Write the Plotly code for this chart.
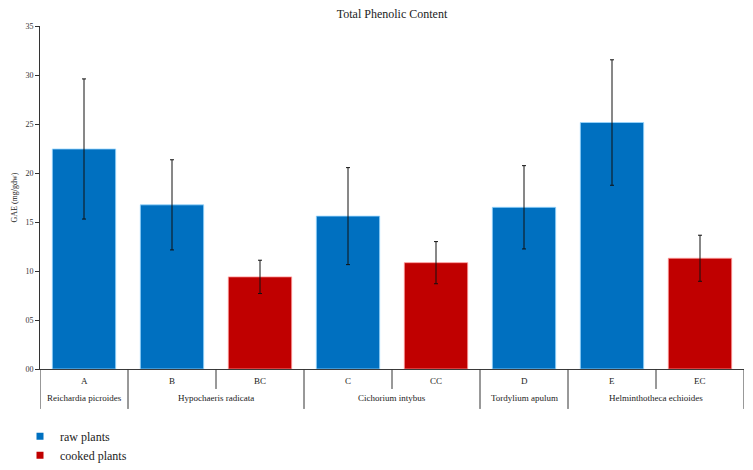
import plotly.graph_objects as go

categories = ["A", "B", "BC", "C", "CC", "D", "E", "EC"]
values = [22.45, 16.75, 9.4, 15.6, 10.85, 16.5, 25.15, 11.3]
errors = [7.15, 4.6, 1.7, 4.95, 2.15, 4.25, 6.4, 2.35]
cooked = [False, False, True, False, True, False, False, True]
groups = ["Reichardia picroides", "Hypochaeris radicata", "Cichorium intybus",
          "Tordylium apulum", "Helminthotheca echioides"]
group_sizes = [1, 2, 2, 1, 2]
ytick_vals = [0, 5, 10, 15, 20, 25, 30, 35]
ytick_text = ["00", "05", "10", "15", "20", "25", "30", "35"]

BLUE = "#0070C0"
RED = "#C00000"
FONT = "Liberation Serif"
PH = 343.5  # plot height in px

fig = go.Figure()
for is_cooked, color, edge in [(False, BLUE, "#9ad8ff"), (True, RED, "#ff9a9a")]:
    idx = [i for i, c in enumerate(cooked) if c == is_cooked]
    fig.add_trace(go.Bar(
        x=[i for i in idx], y=[values[i] for i in idx],
        error_y=dict(type="data", array=[errors[i] for i in idx],
                     color="#111111", thickness=1, width=2),
        marker=dict(color=color, line=dict(color=edge, width=0.8)),
        width=0.72, showlegend=False, hoverinfo="y"))

for name, color in [("raw plants", BLUE), ("cooked plants", RED)]:
    fig.add_trace(go.Scatter(x=[None], y=[None], mode="markers", name=name,
                             marker=dict(symbol="square", size=7, color=color)))

# category letters
for i, c in enumerate(categories):
    fig.add_annotation(x=i, y=-12 / PH, xref="x", yref="paper", text=c,
                       showarrow=False, font=dict(family=FONT, size=9, color="#222222"),
                       yanchor="middle")

# group labels and separators
shapes = []
start = 0
long_y = -40 / PH
short_y = -20 / PH
bounds = [-0.5]
for g, n in zip(groups, group_sizes):
    center = start + (n - 1) / 2
    fig.add_annotation(x=center, y=-29 / PH, xref="x", yref="paper", text=g,
                       showarrow=False, font=dict(family=FONT, size=9, color="#222222"),
                       yanchor="middle")
    for k in range(1, n):
        shapes.append(dict(type="line", xref="x", yref="paper", x0=start + k - 0.5,
                           x1=start + k - 0.5, y0=0, y1=short_y,
                           line=dict(color="#333333", width=1)))
    start += n
    bounds.append(start - 0.5)
for b in bounds:
    shapes.append(dict(type="line", xref="x", yref="paper", x0=b, x1=b, y0=0, y1=long_y,
                       line=dict(color="#333333", width=1)))

# page body has an 8px margin, so the figure is 8px smaller and offset
fig.update_layout(
    width=745, height=462,
    margin=dict(l=32, r=9, t=17.5, b=101, autoexpand=False),
    paper_bgcolor="white", plot_bgcolor="white",
    barmode="overlay",
    shapes=shapes,
    title=dict(text="Total Phenolic Content", x=0.5, xref="paper", y=1 - 5.5 / 462,
               yanchor="middle", font=dict(family=FONT, size=12, color="#222222")),
    font=dict(family=FONT, color="#222222"),
    xaxis=dict(range=[-0.5, 7.5], showticklabels=False, ticks="", showgrid=False,
               zeroline=False, showline=True, linecolor="#3a3a3a", linewidth=1),
    yaxis=dict(range=[0, 35], tickvals=ytick_vals, ticktext=ytick_text,
               ticks="outside", ticklen=4, tickcolor="#333333", showgrid=False,
               zeroline=False, showline=True, linecolor="#333333", linewidth=1,
               tickfont=dict(family=FONT, size=8, color="#333333"),
               title=dict(text="GAE (mg/gdw)", font=dict(family=FONT, size=8, color="#222222"),
                          standoff=6)),
    legend=dict(x=-0.0284, y=-0.154, xanchor="left", yanchor="top",
                font=dict(family=FONT, size=12, color="#222222"),
                itemwidth=30, tracegroupgap=0, bgcolor="rgba(0,0,0,0)"),
)

fig.write_html("out.html")
